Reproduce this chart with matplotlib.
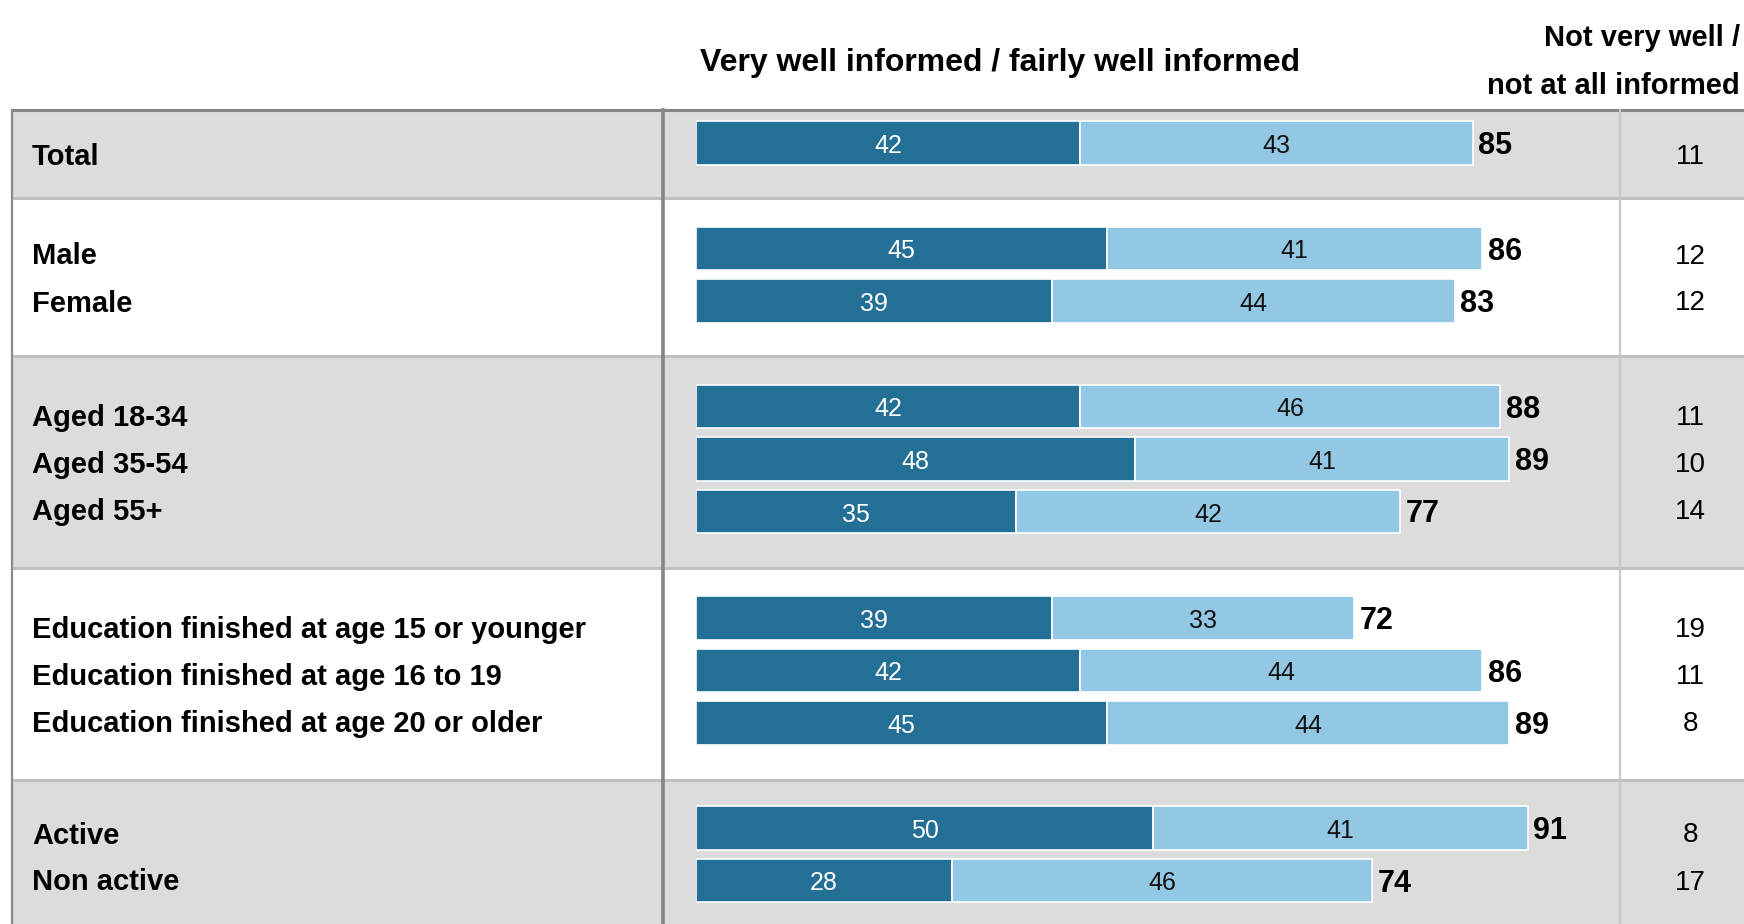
import matplotlib
matplotlib.use("Agg")
import matplotlib.pyplot as plt

plt.rcParams["font.family"] = ["Liberation Sans", "DejaVu Sans"]

# data
group_labels = [
    ["Total"],
    ["Male", "Female"],
    ["Aged 18-34", "Aged 35-54", "Aged 55+"],
    ["Education finished at age 15 or younger",
     "Education finished at age 16 to 19",
     "Education finished at age 20 or older"],
    ["Active", "Non active"],
]
informed_part1 = [42, 45, 39, 42, 48, 35, 39, 42, 45, 50, 28]
informed_part2 = [43, 41, 44, 46, 41, 42, 33, 44, 44, 41, 46]
informed_total = [85, 86, 83, 88, 89, 77, 72, 86, 89, 91, 74]
not_informed = [11, 12, 12, 11, 10, 14, 19, 11, 8, 8, 17]

header_main = "Very well informed / fairly well informed"
header_right = ["Not very well /", "not at all informed"]

# layout (pixels of the 1744x924 canvas)
W, H = 1744, 924
group_tops = [110, 198, 356, 568, 780]
group_bottoms = [198, 356, 568, 780, 932]
bar_first_offset = [33, 50.5, 50.5, 50, 48]
bar_pitch = 52.5
label_pitch = 47
bar_height = 43.5
bar_left, col_div, right_div = 696, 663, 1620
px_per_unit = 9.14
dy = 3  # text sits a little lower than the geometric centre

dark = "#246f95"
light = "#93c8e4"
band = "#dcdcdc"

fig = plt.figure(figsize=(W / 100, H / 100), dpi=100)
bg = fig.add_axes([0, 0, 1, 1])
bg.set_xlim(0, W)
bg.set_ylim(H, 0)
bg.axis("off")

ax = fig.add_axes([bar_left / W, 0, (right_div - bar_left) / W, 1])
ax.set_xlim(0, (right_div - bar_left) / px_per_unit)
ax.set_ylim(H, 0)
ax.axis("off")

bar_y, label_y = [], []
for g, labels in enumerate(group_labels):
    top, bottom = group_tops[g], group_bottoms[g]
    if g % 2 == 0:
        bg.fill_between([12, W], top, bottom, color=band, lw=0, zorder=0)
    mid = (top + bottom) / 2
    n = len(labels)
    for i in range(n):
        bar_y.append(top + bar_first_offset[g] + i * bar_pitch)
        label_y.append(mid + (i - (n - 1) / 2) * label_pitch)

for y in group_tops[1:]:
    bg.plot([12, W], [y, y], color="#c0c0c0", lw=2.2, zorder=2)
bg.plot([12, W], [110, 110], color="#858585", lw=2.2, zorder=3)
bg.plot([12, 12], [110, H], color="#8a8a8a", lw=1.6, zorder=3)
bg.plot([col_div, col_div], [110, H], color="#858585", lw=2.6, zorder=3)
bg.plot([right_div, right_div], [110, H], color="#c8c8c8", lw=1.6, zorder=3)

flat_labels = [s for labels in group_labels for s in labels]
for y, s in zip(label_y, flat_labels):
    bg.text(32, y + dy, s, fontsize=21, fontweight="bold",
            ha="left", va="center")
for y, v in zip(label_y, not_informed):
    bg.text(1690, y + dy, str(v), fontsize=20, ha="center", va="center")

bg.text(1000, 63, header_main, fontsize=23, fontweight="bold",
        ha="center", va="center")
bg.text(1740, 38, header_right[0], fontsize=21, fontweight="bold",
        ha="right", va="center")
bg.text(1740, 86, header_right[1], fontsize=21, fontweight="bold",
        ha="right", va="center")

ax.barh(bar_y, informed_part1, height=bar_height, color=dark,
        edgecolor="white", lw=1.2, zorder=4)
ax.barh(bar_y, informed_part2, left=informed_part1, height=bar_height,
        color=light, edgecolor="white", lw=1.2, zorder=4)

for y, a, b, t in zip(bar_y, informed_part1, informed_part2, informed_total):
    ax.text(a / 2, y + dy, str(a), color="white", fontsize=18,
            ha="center", va="center", zorder=5)
    ax.text(a + b / 2, y + dy, str(b), color="#111111", fontsize=18,
            ha="center", va="center", zorder=5)
    ax.text(a + b + 0.6, y + dy, str(t), fontsize=22, fontweight="bold",
            ha="left", va="center", zorder=5)

fig.savefig("out.png", dpi=100)
